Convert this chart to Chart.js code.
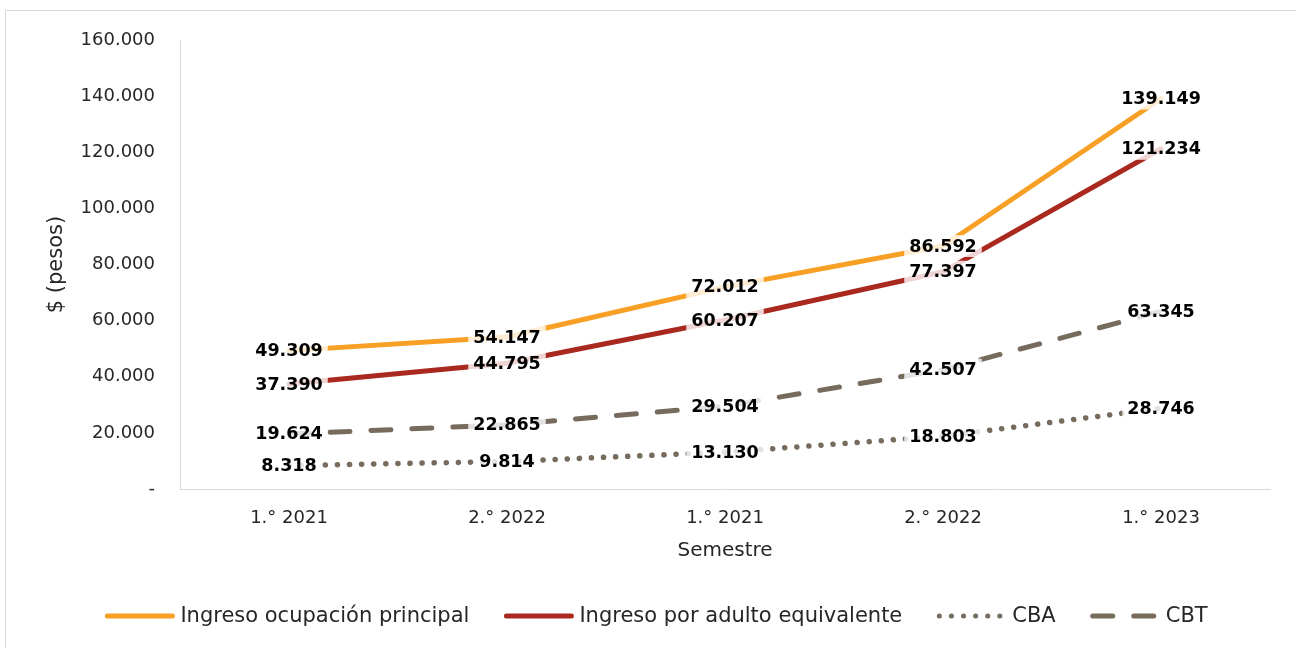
<!DOCTYPE html>
<html><head><meta charset="utf-8">
<script src="https://cdn.jsdelivr.net/npm/chart.js@4/dist/chart.umd.min.js"></script>
<style>
html,body{margin:0;padding:0;background:#fff;}
#wrap{position:absolute;left:0;top:0;width:1296px;height:648px;overflow:hidden;}
#frame{position:absolute;left:5px;top:10px;width:1300px;height:700px;border:1px solid #d9d9d9;box-sizing:border-box;}
canvas{position:absolute;left:0;top:0;}
</style></head>
<body>
<div id="wrap"><div id="frame"></div><canvas id="c" width="1296" height="648"></canvas></div>
<script>
const categories = ['1.° 2021', '2.° 2022', '1.° 2021', '2.° 2022', '1.° 2023'];
const ingresoOcupacion = [49309, 54147, 72012, 86592, 139149];
const ingresoAdulto = [37390, 44795, 60207, 77397, 121234];
const cba = [8318, 9814, 13130, 18803, 28746];
const cbt = [19624, 22865, 29504, 42507, 63345];
const yTicks = [0, 20000, 40000, 60000, 80000, 100000, 120000, 140000, 160000];
const seriesNames = ['Ingreso ocupación principal', 'Ingreso por adulto equivalente', 'CBA', 'CBT'];

const FONT = "'DejaVu Sans', sans-serif";
const fmt = v => v === 0 ? '-' : Math.round(v).toString().replace(/\B(?=(\d{3})+(?!\d))/g, '.');

const colors = ['#F8A025', '#A9291F', '#776B5D', '#776B5D'];
const dashes = [[], [], [0.1, 12], [20, 21]];
const widths = [5, 5, 5.5, 5];

const labelPlugin = {
  id: 'valueLabels',
  afterDatasetsDraw(chart) {
    const ctx = chart.ctx;
    ctx.save();
    ctx.font = "bold 17.5px " + FONT;
    ctx.textAlign = 'center';
    ctx.textBaseline = 'middle';
    chart.data.datasets.forEach((ds, i) => {
      const meta = chart.getDatasetMeta(i);
      meta.data.forEach((pt, j) => {
        const txt = fmt(ds.data[j]);
        const w = ctx.measureText(txt).width;
        ctx.fillStyle = 'rgba(255,255,255,0.8)';
        ctx.fillRect(pt.x - w / 2 - 5, pt.y - 11, w + 10, 22);
      });
    });
    chart.data.datasets.forEach((ds, i) => {
      const meta = chart.getDatasetMeta(i);
      meta.data.forEach((pt, j) => {
        ctx.fillStyle = '#000';
        ctx.fillText(fmt(ds.data[j]), pt.x, pt.y + 1);
      });
    });
    ctx.restore();
  }
};

const legendPlugin = {
  id: 'customLegend',
  afterDraw(chart) {
    const ctx = chart.ctx;
    ctx.save();
    ctx.font = "21px " + FONT;
    ctx.textBaseline = 'middle';
    const lineLen = 71, gapText = 5, gapItem = 34;
    const items = chart.data.datasets.map((ds, i) => ({
      name: ds.label, color: ds.borderColor, dash: ds.borderDash || [],
      tw: ctx.measureText(ds.label).width
    }));
    const total = items.reduce((s, it) => s + lineLen + gapText + it.tw, 0) + gapItem * (items.length - 1);
    let x = 656 - total / 2;
    const y = 616;
    items.forEach(it => {
      ctx.beginPath();
      ctx.strokeStyle = it.color;
      ctx.lineWidth = 5;
      ctx.lineCap = 'round';
      ctx.setLineDash(it.dash);
      ctx.moveTo(x + 3, y);
      ctx.lineTo(x + lineLen - 3, y);
      ctx.stroke();
      ctx.setLineDash([]);
      ctx.fillStyle = '#262626';
      ctx.fillText(it.name, x + lineLen + gapText, y + 1);
      x += lineLen + gapText + it.tw + gapItem;
    });
    ctx.restore();
  }
};

const datasets = [ingresoOcupacion, ingresoAdulto, cba, cbt].map((d, i) => ({
  label: seriesNames[i],
  data: d,
  borderColor: colors[i],
  backgroundColor: colors[i],
  borderWidth: widths[i],
  borderDash: dashes[i],
  borderCapStyle: 'round',
  borderJoinStyle: 'round',
  pointRadius: 0,
  tension: 0,
  fill: false
}));

new Chart(document.getElementById('c'), {
  type: 'line',
  data: { labels: categories, datasets },
  plugins: [labelPlugin, legendPlugin],
  options: {
    responsive: false,
    animation: false,
    events: [],
    layout: { padding: { left: 40, right: 26, top: 40, bottom: 81 } },
    plugins: { legend: { display: false }, tooltip: { enabled: false } },
    scales: {
      x: {
        offset: true,
        grid: { display: false, offset: true },
        border: { display: true, color: '#d9d9d9', width: 1 },
        ticks: { color: '#262626', font: { family: FONT, size: 18 }, padding: 11, maxRotation: 0 },
        title: { display: true, text: 'Semestre', color: '#262626', font: { family: FONT, size: 20 }, padding: { top: 4, bottom: 4 } },
        afterFit(s) { s.height = 78; }
      },
      y: {
        min: 0, max: 160000,
        afterBuildTicks(s) { s.ticks = yTicks.map(v => ({ value: v })); },
        grid: { display: false },
        border: { display: true, color: '#d9d9d9', width: 1 },
        ticks: { color: '#262626', font: { family: FONT, size: 18 }, padding: 17, callback: v => fmt(v) },
        title: { display: true, text: '$ (pesos)', color: '#262626', font: { family: FONT, size: 21 }, padding: { top: 4, bottom: 4 } },
        afterFit(s) { s.width = 140; }
      }
    }
  }
});
</script>
</body></html>
